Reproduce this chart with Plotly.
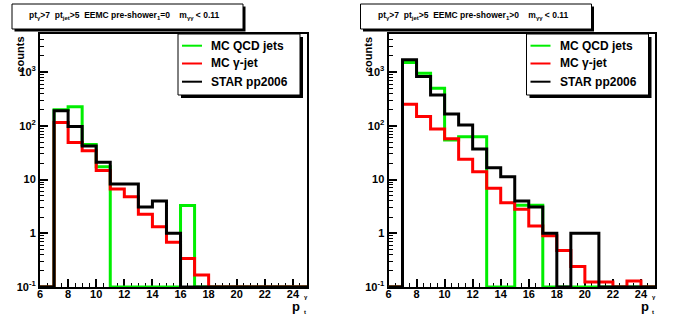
import plotly.graph_objects as go

W, H = 696, 322

# ---------------- data ----------------
bin_edges = list(range(6, 26))  # 6..25, 19 bins of width 1

left_qcd = [0, 200, 228, 45, 17.4, 0, 0, 0, 0, 0, 3.3, 0, 0, 0, 0, 0, 0, 0, 0]
left_gjet = [0, 115, 49, 34.5, 14.7, 6.7, 4.8, 2.26, 1.33, 0.68, 0.34, 0.167, 0, 0, 0, 0, 0, 0, 0]
left_star = [0, 192, 97, 42, 21, 8.3, 8.3, 3.1, 4.0, 1.0, 0, 0, 0, 0, 0, 0, 0, 0, 0]

right_qcd = [0, 1510, 957, 502, 54.6, 63, 63, 0, 0, 3.34, 3.34, 0, 0, 0, 0, 0, 0, 0, 0]
right_gjet = [0, 253, 149, 87, 57.7, 24, 14, 6.9, 3.7, 2.8, 1.36, 0.9, 0.48, 0.24, 0.124, 0.124, 0, 0.13, 0]
right_star = [0, 1694, 828, 377, 167, 104, 37, 16.6, 11.3, 4.0, 3.1, 1.0, 0, 1.0, 1.0, 0, 0, 0, 0]

series_names = ["MC QCD jets", "MC \u03b3-jet", "STAR pp2006"]
series_colors = ["#00ee00", "#ff0000", "#000000"]

titles = [
    "pt<sub>\u03b3</sub>>7  pt<sub>jet</sub>>5  EEMC pre-shower<sub>1</sub>=0    m<sub>\u03b3\u03b3</sub> < 0.11",
    "pt<sub>\u03b3</sub>>7  pt<sub>jet</sub>>5  EEMC pre-shower<sub>1</sub>>0    m<sub>\u03b3\u03b3</sub> < 0.11",
]

ytick_vals = [0.1, 1, 10, 100, 1000]
ytick_text = ["10<sup>-1</sup>", "1", "10", "10<sup>2</sup>", "10<sup>3</sup>"]
xtick_vals = list(range(6, 26, 2))

YMIN_LOG, YMAX_LOG = -1, 3.71
FLOOR = 10 ** YMIN_LOG

FONT = "Liberation Sans, Arial, sans-serif"


def px(x):
    return x / W


def py(y):
    return 1 - y / H


fig = go.Figure()

panels = [
    dict(data=[left_qcd, left_gjet, left_star], xa="x", ya="y"),
    dict(data=[right_qcd, right_gjet, right_star], xa="x2", ya="y2"),
]
ytop, ybot = 34, 287

for pi, p in enumerate(panels):
    for vals, name, col in zip(p["data"], series_names, series_colors):
        yv = [v if v > 0 else FLOOR for v in vals]
        yv = yv + [yv[-1]]
        fig.add_trace(go.Scatter(
            x=bin_edges, y=yv, mode="lines", line=dict(shape="hv", color=col, width=3),
            xaxis=p["xa"], yaxis=p["ya"], showlegend=False, name=name,
        ))

minor_y = []
for d in range(-1, 4):
    for k in range(2, 10):
        v = k * 10 ** d
        if v < 10 ** YMAX_LOG:
            minor_y.append(v)

axis_common_x = dict(
    range=[6, 25], tickvals=xtick_vals, ticks="inside", ticklen=8, tickwidth=1.5,
    tickcolor="black", showline=True, linecolor="black", linewidth=2, mirror=True,
    showgrid=False, zeroline=False, layer="below traces", automargin=False,
    ticklabelstandoff=-4,
    tickfont=dict(family=FONT, size=11, color="black", weight="bold"),
    minor=dict(ticks="inside", ticklen=4, tickwidth=1, tickcolor="black", dtick=0.5, showgrid=False),
)
axis_common_y = dict(
    type="log", range=[YMIN_LOG, YMAX_LOG], tickvals=ytick_vals, ticktext=ytick_text,
    ticks="inside", ticklen=8, tickwidth=1.5, tickcolor="black",
    showline=True, linecolor="black", linewidth=2, mirror=True,
    showgrid=False, zeroline=False, layer="below traces", automargin=False,
    tickfont=dict(family=FONT, size=11, color="black", weight="bold"),
    minor=dict(ticks="inside", ticklen=4, tickwidth=1, tickcolor="black", tickvals=minor_y, showgrid=False),
)

fig.update_layout(
    width=W, height=H, autosize=False, margin=dict(l=0, r=0, t=0, b=0, pad=0),
    paper_bgcolor="white", plot_bgcolor="white",
    xaxis=dict(domain=[px(40), px(307)], anchor="y", **axis_common_x),
    yaxis=dict(domain=[py(ybot), py(ytop)], anchor="x", **axis_common_y),
    xaxis2=dict(domain=[px(388.5), px(655)], anchor="y2", **axis_common_x),
    yaxis2=dict(domain=[py(ybot), py(ytop)], anchor="x2", **axis_common_y),
    showlegend=False,
)

shapes = []
annotations = []

for pi, off in enumerate([0, 348.5]):
    # title box with shadow
    bx0, bx1, by0, by1 = 12 + off, 243 + off, 4, 29
    shapes.append(dict(type="rect", xref="paper", yref="paper",
                       x0=px(bx0 + 2.5), x1=px(bx1 + 2.5), y0=py(by1 + 2.5), y1=py(by0 + 2.5),
                       fillcolor="black", line=dict(width=0), layer="above"))
    shapes.append(dict(type="rect", xref="paper", yref="paper",
                       x0=px(bx0), x1=px(bx1), y0=py(by1), y1=py(by0),
                       fillcolor="white", line=dict(color="black", width=1), layer="above"))
    annotations.append(dict(xref="paper", yref="paper", x=px((bx0 + bx1) / 2 - 3), y=py(15.5),
                            text=titles[pi], showarrow=False, xanchor="center", yanchor="middle",
                            font=dict(family=FONT, size=8.5, color="black", weight="bold")))

    # legend box with shadow
    lx0, lx1, ly0, ly1 = 178 + off, 300 + off, 34, 95
    shapes.append(dict(type="rect", xref="paper", yref="paper",
                       x0=px(lx0 + 3), x1=px(lx1 + 3), y0=py(ly1 + 3), y1=py(ly0 + 3),
                       fillcolor="black", line=dict(width=0), layer="above"))
    shapes.append(dict(type="rect", xref="paper", yref="paper",
                       x0=px(lx0), x1=px(lx1), y0=py(ly1), y1=py(ly0),
                       fillcolor="white", line=dict(color="black", width=1), layer="above"))
    for i, (name, col) in enumerate(zip(series_names, series_colors)):
        yy = [45.7, 63.5, 81.7][i]
        shapes.append(dict(type="line", xref="paper", yref="paper",
                           x0=px(182 + off), x1=px(202 + off), y0=py(yy), y1=py(yy),
                           line=dict(color=col, width=2), layer="above"))
        annotations.append(dict(xref="paper", yref="paper", x=px(209 + off), y=py(yy),
                                text=name, showarrow=False, xanchor="left", yanchor="middle",
                                font=dict(family=FONT, size=12, color="black", weight="bold")))

    # y-axis title
    annotations.append(dict(xref="paper", yref="paper", x=px(19.5 + off), y=py(35),
                            text="counts", showarrow=False, textangle=-90,
                            xanchor="center", yanchor="top",
                            font=dict(family=FONT, size=11, color="black", weight="bold")))
    # x-axis title p_t^gamma
    annotations.append(dict(xref="paper", yref="paper", x=px(302 + off), y=py(306),
                            text="p", showarrow=False, xanchor="right", yanchor="middle",
                            font=dict(family=FONT, size=13, color="black", weight="bold")))
    annotations.append(dict(xref="paper", yref="paper", x=px(301.5 + off), y=py(297),
                            text="\u03b3", showarrow=False, xanchor="left", yanchor="middle",
                            font=dict(family=FONT, size=6, color="black", weight="bold")))
    annotations.append(dict(xref="paper", yref="paper", x=px(301.5 + off), y=py(312),
                            text="t", showarrow=False, xanchor="left", yanchor="middle",
                            font=dict(family=FONT, size=6, color="black", weight="bold")))

fig.update_layout(shapes=shapes, annotations=annotations)

fig.write_html("out.html", config={"responsive": False})
